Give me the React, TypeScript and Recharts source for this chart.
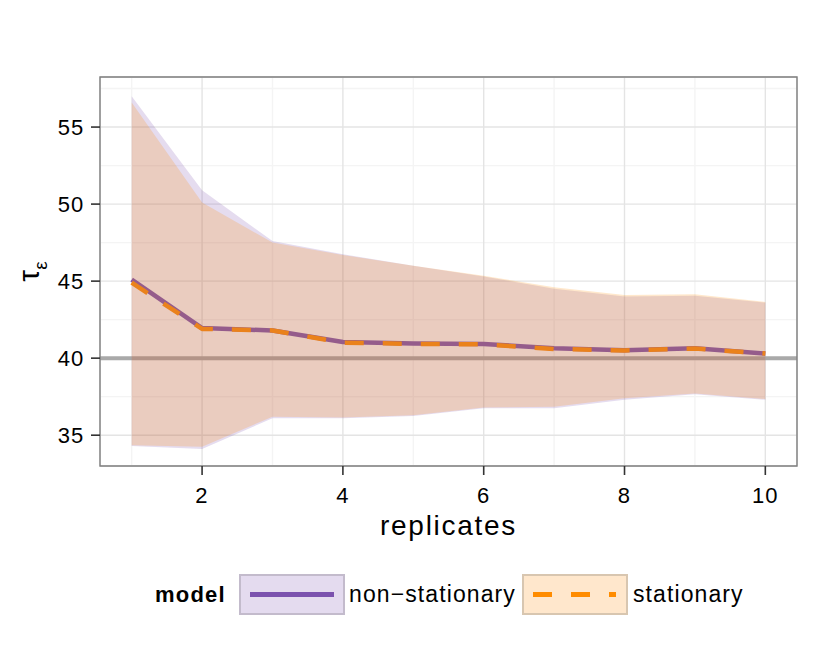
import React from "react";
import {
  ComposedChart,
  Line,
  Area,
  XAxis,
  YAxis,
  CartesianGrid,
  ReferenceLine,
  ReferenceArea,
} from "recharts";

const replicates = [1, 2, 3, 4, 5, 6, 7, 8, 9, 10];
const nsMean = [45.1, 41.95, 41.8, 41.05, 40.95, 40.92, 40.65, 40.52, 40.65, 40.3];
const stMean = [44.9, 41.9, 41.8, 41.0, 40.93, 40.9, 40.6, 40.5, 40.62, 40.3];
const nsUpper = [57.0, 50.9, 47.6, 46.75, 46.0, 45.3, 44.5, 44.0, 44.05, 43.6];
const stUpper = [56.6, 50.1, 47.5, 46.7, 46.0, 45.35, 44.6, 44.1, 44.15, 43.65];
const nsLower = [34.3, 34.1, 36.1, 36.1, 36.25, 36.75, 36.75, 37.3, 37.65, 37.3];
const stLower = [34.35, 34.25, 36.2, 36.15, 36.3, 36.8, 36.85, 37.4, 37.7, 37.35];

const xTicks = [2, 4, 6, 8, 10];
const yTicks = [35, 40, 45, 50, 55];
const xMinor = [1, 3, 5, 7, 9];
const yMinor = [37.5, 42.5, 47.5, 52.5, 57.5];
const trueValue = 40;
const xDomain = [0.55, 10.45];
const yDomain = [33.0, 58.25];

const PURPLE = "#7B52AE";
const ORANGE = "#FF8C00";
const FONT = "'Liberation Sans', Arial, Helvetica, sans-serif";

const data = replicates.map((r, i) => ({
  r,
  nsMean: nsMean[i],
  stMean: stMean[i],
  nsBand: [nsLower[i], nsUpper[i]],
  stBand: [stLower[i], stUpper[i]],
}));

const tickStyle = { fontSize: 22, fill: "#000", fontFamily: FONT, letterSpacing: 1.2 };

function TauLabel(props: any) {
  const vb = props.viewBox || { x: 0, y: 77, width: 100, height: 389 };
  const cx = vb.x + 39;
  const cy = vb.y + vb.height / 2;
  return (
    <text
      transform={`translate(${cx},${cy}) rotate(-90)`}
      textAnchor="middle"
      fontFamily={FONT}
      fontSize={30}
      fill="#000"
    >
      τ
      <tspan fontSize={19} dy={8}>
        ε
      </tspan>
    </text>
  );
}

function LegendKey({ color, fill, border, dashed }: any) {
  return (
    <div
      style={{
        width: 106,
        height: 41,
        boxSizing: "border-box",
        background: fill,
        border: `2px solid ${border}`,
        position: "relative",
      }}
    >
      <svg width={102} height={37} style={{ position: "absolute", left: 0, top: 0 }}>
        <line
          x1={9}
          x2={dashed ? 92 : 93}
          y1={18.5}
          y2={18.5}
          stroke={color}
          strokeWidth={5}
          strokeDasharray={dashed ? "19 19" : undefined}
        />
      </svg>
    </div>
  );
}

export default function App() {
  return (
    <div
      style={{
        position: "absolute",
        left: 0,
        top: 0,
        width: 830,
        height: 664,
        background: "#fff",
        fontFamily: FONT,
      }}
    >
      <ComposedChart
        width={830}
        height={664}
        data={data}
        margin={{ top: 77, right: 33, bottom: 118, left: 0 }}
      >
        {xMinor.map((v) => (
          <ReferenceLine key={`xm${v}`} x={v} stroke="#F4F4F4" strokeWidth={1.4} zIndex={-120} />
        ))}
        {yMinor.map((v) => (
          <ReferenceLine key={`ym${v}`} y={v} stroke="#F4F4F4" strokeWidth={1.4} zIndex={-120} />
        ))}
        <CartesianGrid stroke="#E4E4E4" strokeWidth={1.4} />
        <XAxis
          dataKey="r"
          type="number"
          domain={xDomain}
          ticks={xTicks}
          allowDataOverflow
          axisLine={false}
          tickSize={9}
          tickMargin={12}
          tickLine={{ stroke: "#333", strokeWidth: 1.6 }}
          tick={tickStyle}
          height={80}
          label={{
            value: "replicates",
            position: "insideBottom",
            offset: 11,
            style: { fontSize: 28, fill: "#000", fontFamily: FONT, letterSpacing: 1.7 },
          }}
        />
        <YAxis
          type="number"
          domain={yDomain}
          ticks={yTicks}
          allowDataOverflow
          axisLine={false}
          width={100}
          tickSize={9}
          tickMargin={6.5}
          tickLine={{ stroke: "#333", strokeWidth: 1.6 }}
          tick={tickStyle}
          label={{ content: (p: any) => <TauLabel {...p} /> }}
        />
        <ReferenceLine y={trueValue} stroke="#A9A9A9" strokeWidth={4} zIndex={10} />
        <Line
          type="linear"
          dataKey="nsMean"
          stroke={PURPLE}
          strokeWidth={4.5}
          strokeLinejoin="round"
          dot={false}
          activeDot={false}
          isAnimationActive={false}
          zIndex={20}
        />
        <Line
          type="linear"
          dataKey="stMean"
          stroke={ORANGE}
          strokeWidth={4.5}
          strokeDasharray="19 19"
          strokeLinejoin="round"
          dot={false}
          activeDot={false}
          isAnimationActive={false}
          zIndex={21}
        />
        <Area
          type="linear"
          dataKey="nsBand"
          fill={PURPLE}
          fillOpacity={0.2}
          stroke="none"
          isAnimationActive={false}
          zIndex={30}
        />
        <Area
          type="linear"
          dataKey="stBand"
          fill={ORANGE}
          fillOpacity={0.2}
          stroke="none"
          isAnimationActive={false}
          zIndex={31}
        />
        <ReferenceArea
          x1={xDomain[0]}
          x2={xDomain[1]}
          y1={yDomain[0]}
          y2={yDomain[1]}
          fill="none"
          fillOpacity={0}
          stroke="#7F7F7F"
          strokeWidth={1.4}
          zIndex={40}
        />
      </ComposedChart>
      <div
        style={{
          position: "absolute",
          left: 155,
          top: 574,
          display: "flex",
          alignItems: "center",
          height: 41,
        }}
      >
        <span style={{ width: 84, fontWeight: "bold", fontSize: 22, letterSpacing: 1.2 }}>model</span>
        <LegendKey color={PURPLE} fill="#E4DBEF" border="#C3BBCC" />
        <span style={{ width: 177, paddingLeft: 4, boxSizing: "border-box", fontSize: 23, letterSpacing: 1.1 }}>
          non−stationary
        </span>
        <LegendKey color={ORANGE} fill="#FFE7CC" border="#D8C6B0" dashed />
        <span style={{ paddingLeft: 5, fontSize: 23, letterSpacing: 1.1 }}>stationary</span>
      </div>
    </div>
  );
}
